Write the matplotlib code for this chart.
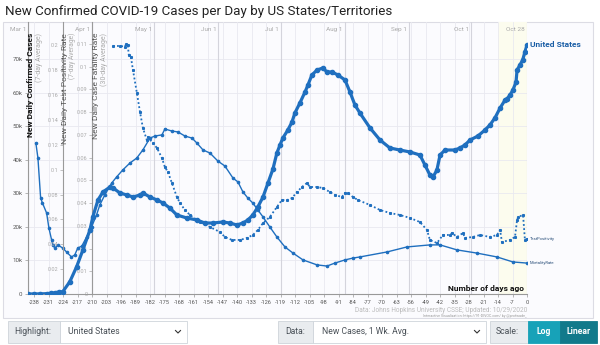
import matplotlib
matplotlib.use("Agg")
import matplotlib.pyplot as plt
from matplotlib.patches import Rectangle
from matplotlib.lines import Line2D
import matplotlib.transforms as mtransforms

plt.rcParams['font.family'] = ['Roboto', 'DejaVu Sans']

# days before Oct 28 and 7-day average of new cases (United States)
case_days = [-241, -238, -235, -232, -230, -228, -226, -224.2, -220.8, -217.5, -214.5,
             -211.1, -209.7, -207.2, -204.8, -201.4, -199.9, -196.6, -193.2, -190.3,
             -186.9, -185.5, -182.1, -178.7, -175.8, -172.5, -169.1, -164.3, -159.4,
             -155.6, -151.7, -146.9, -143.5, -140.1, -137.2, -134.8, -132.4, -130,
             -127.5, -125.1, -122.7, -120.8, -119.3, -117.9, -115.5, -113.5, -112.1,
             -109.7, -107.2, -105.8, -103.9, -101.4, -98.6, -96.6, -94.2, -91.3, -87.9,
             -85.5, -83.1, -80.7, -75.8, -71, -66.2, -61.4, -56.5, -51.7, -49.3, -46.9,
             -45.4, -43.5, -42, -39.6, -34.8, -32.4, -30, -27.5, -23.7, -20.3, -17.9,
             -15.5, -13, -10.6, -9.7, -8.2, -6.8, -5.3, -4.8, -3.4, -2.1, -1, 0]
case_values = [5, 15, 40, 100, 200, 380, 600, 690, 3670, 8150, 13130,
               19100, 23000, 28060, 30450, 31940, 31640, 30150, 29550, 28950,
               29550, 30150, 28950, 28060, 27160, 25670, 23580, 22690, 22090,
               21190, 21190, 21490, 21190, 20600, 21190, 22090, 23580, 25970,
               28950, 33130, 37310, 42090, 44480, 46570, 48950, 51340, 54030,
               57010, 60300, 62390, 65370, 66860, 67460, 66270, 66270, 65370, 63880,
               60300, 56420, 54030, 49550, 45970, 43580, 42980, 42390, 41490, 38510, 35520,
               34920, 37010, 41490, 42980, 42980, 43580, 44480, 45970, 47160, 48950, 50450,
               52540, 55520, 57910, 58210, 59400, 60890, 63280, 66860, 68360, 69850, 72240, 74330]

# 7-day average test positivity rate
pos_days = [-200, -196.6, -194.2, -193.7, -192.8, -192.3, -191.3, -190.3, -188.4, -186.9,
            -185.5, -183.6, -183.1, -180.7, -178.7, -176.3, -174.9, -173.4, -171.5, -169.1,
            -167.6, -165.2, -162.8, -158, -153.1, -148.3, -145.9, -142.5, -138.6, -135.3,
            -132.4, -130, -127.5, -124.2, -120.8, -118.4, -115.9, -113.5, -111.1, -108.7,
            -106.3, -104.8, -101.4, -98.6, -95.2, -92.8, -89.4, -87.9, -86.5, -84.1, -81.6,
            -75.8, -71, -66.2, -61.4, -56.5, -51.7, -48.3, -46.9, -43.5, -40.6, -37.2,
            -36.2, -33.8, -30.9, -30, -26.1, -22.7, -17.9, -14.5, -13, -12.1, -8.2, -5.8,
            -4.8, -4.3, -1.9, -1, 0]
pos_values = [0.1996, 0.1996, 0.1991, 0.2008, 0.2000, 0.1923, 0.1907, 0.1802, 0.1617, 0.1464,
              0.1336, 0.1239, 0.1263, 0.1215, 0.1175, 0.1094, 0.1022, 0.0982, 0.0893, 0.0781,
              0.0732, 0.0676, 0.0636, 0.0579, 0.0539, 0.0499, 0.0459, 0.0435, 0.0435, 0.0451,
              0.0475, 0.0515, 0.0571, 0.0620, 0.0700, 0.0756, 0.0756, 0.0772, 0.0821, 0.0861,
              0.0893, 0.0861, 0.0861, 0.0853, 0.0821, 0.0797, 0.0781, 0.0813, 0.0813, 0.0781, 0.0756,
              0.0716, 0.0676, 0.0652, 0.0636, 0.0612, 0.0579, 0.0515, 0.0435, 0.0410, 0.0475, 0.0475,
              0.0491, 0.0459, 0.0491, 0.0451, 0.0459, 0.0475, 0.0459, 0.0475, 0.0515, 0.0418, 0.0435, 0.0459,
              0.0595, 0.0620, 0.0636, 0.0435, 0.0443]

# 30-day average case fatality rate
cfr_days = [-237.2, -236.2, -234.9, -234, -232, -230.9, -229.6, -229, -228, -226.6, -224.2,
            -222.4, -220, -218.4, -217, -215, -212.7, -210.3, -207.9, -206.3, -203.9, -200.6,
            -198.2, -195.2, -191.8, -188.5, -185.5, -182.1, -179.7, -176.3, -174.9, -171.5,
            -168.6, -165.2, -161.8, -159.4, -156.5, -153.1, -149.3, -145.9, -142, -139.6,
            -137.2, -134.8, -132.4, -130, -127.5, -124.2, -120.8, -116.9, -113, -108.2,
            -101.4, -96.6, -92.8, -87.9, -84.1, -80.7, -67.6, -58, -46.9, -42, -33.8,
            -24.2, -14.5, -6.8, 0]
cfr_values = [0.0664, 0.0598, 0.0422, 0.0400, 0.0356, 0.0290, 0.0238, 0.0216, 0.0202, 0.0216, 0.0202,
              0.0185, 0.0163, 0.0172, 0.0202, 0.0211, 0.0251, 0.0295, 0.0348, 0.0392, 0.0436, 0.0488,
              0.0515, 0.0546, 0.0576, 0.0598, 0.0634, 0.0686, 0.0695, 0.0700, 0.0726, 0.0717,
              0.0713, 0.0695, 0.0686, 0.0664, 0.0634, 0.0620, 0.0585, 0.0563, 0.0510, 0.0493,
              0.0449, 0.0422, 0.0400, 0.0370, 0.0339, 0.0295, 0.0251, 0.0207, 0.0180, 0.0150,
              0.0128, 0.0123, 0.0136, 0.0150, 0.0158, 0.0163, 0.0185, 0.0207, 0.0216, 0.0216, 0.0194,
              0.0180, 0.0163, 0.0141, 0.0136]

week_ticks = list(range(-238, 1, 7))
month_days = [-241, -210, -180, -149, -119, -88, -57, -27, 0]
month_names = ['Mar 1', 'Apr 1', 'May 1', 'Jun 1', 'Jul 1', 'Aug 1', 'Sep 1', 'Oct 1', 'Oct 28']
case_ticks = [0, 10000, 20000, 30000, 40000, 50000, 60000, 70000]
pos_ticks = [0.02, 0.04, 0.06, 0.08, 0.1, 0.12, 0.14, 0.16, 0.18, 0.2]
cfr_ticks = [0, 0.01, 0.02, 0.03, 0.04, 0.05, 0.06, 0.07, 0.08, 0.09, 0.1, 0.11]

BLUE = '#1f6fbf'
W, H = 600, 345


def fx(x):
    return x / W


def fy(y):
    return 1 - y / H


def fmt_num(v):
    s = ('%.2f' % v).rstrip('0').rstrip('.')
    return s


fig = plt.figure(figsize=(6, 3.45), dpi=100)
fig.patch.set_facecolor('white')

# chart frame
fig.patches.append(Rectangle((fx(3), fy(318)), fx(590), 296 / H, transform=fig.transFigure,
                             facecolor='#fbfbfe', edgecolor='#dcdce4', lw=0.8, zorder=0))

fig.text(fx(5), fy(11), 'New Confirmed COVID-19 Cases per Day by US States/Territories',
         fontsize=9.6, color='#222222', va='center', ha='left')

rect = [fx(28), fy(294), fx(527 - 28), (294 - 22) / H]
ax3 = fig.add_axes(rect)   # fatality rate, drawn lowest (also hosts grid)
ax2 = fig.add_axes(rect)   # test positivity
ax = fig.add_axes(rect)    # cases on top
ax3.set_zorder(1)
ax2.set_zorder(2)
ax.set_zorder(3)
for a in (ax, ax2, ax3):
    a.set_xlim(-241, 0)
    a.patch.set_visible(False)
    for s in ('top', 'right'):
        a.spines[s].set_visible(False)

ax.set_ylim(0, 81190)
ax2.set_ylim(0, 0.2189)
ax3.set_ylim(0, 0.11967)

# background grid and recent-days band
ax3.axvspan(-14, 0, color='#fcfcee', zorder=0, lw=0)
for d in week_ticks:
    ax3.axvline(d, color='#e9e9f0', lw=0.6, zorder=0.5)
for d in month_days:
    ax3.axvline(d, color='#d4d4dc', lw=0.8, zorder=0.6)
blend = mtransforms.blended_transform_factory(ax3.transAxes, ax.transData)
for v in case_ticks[1:]:
    ax3.plot([0, 1], [v, v], transform=blend, color='#e9e9f0', lw=0.6, zorder=0.5)

for d, name in zip(month_days, month_names):
    ax3.text(d - 1, 0.972, name, transform=ax3.get_xaxis_transform(), ha='right', va='center',
             fontsize=4.6, color='#aaaaaa')

# series
ax3.plot(cfr_days, cfr_values, color=BLUE, lw=1.0, marker='o', ms=1.6, zorder=3)
ax2.plot(pos_days, pos_values, color=BLUE, lw=1.3, ls=(0, (1, 1.3)), zorder=3)
ax2.plot(pos_days, pos_values, color=BLUE, lw=0, marker='s', ms=1.2, zorder=3)
ax.plot(case_days, case_values, color=BLUE, lw=2.3, marker='o', ms=3.0, zorder=4,
        solid_capstyle='round')

# axes
ax.set_yticks(case_ticks)
ax.set_yticklabels(['0' if v == 0 else '%dk' % (v // 1000) for v in case_ticks])
ax.tick_params(axis='y', length=2.5, width=0.5, color='#999999', labelsize=4.4,
               labelcolor='#555555', pad=1.5)
ax.set_xticks(week_ticks)
ax.set_xticklabels([str(d) for d in week_ticks])
ax.tick_params(axis='x', length=2, width=0.5, color='#999999', labelsize=4.1,
               labelcolor='#555555', pad=2)
ax.spines['left'].set_color('#999999')
ax.spines['bottom'].set_color('#999999')
ax.spines['left'].set_linewidth(0.8)
ax.spines['bottom'].set_linewidth(0.8)

for a, pos, ticks in ((ax2, -224, pos_ticks), (ax3, -210, cfr_ticks)):
    a.spines['bottom'].set_visible(False)
    a.spines['left'].set_position(('data', pos))
    a.spines['left'].set_color('#9a9a9a')
    a.spines['left'].set_linewidth(0.8)
    a.set_xticks([])
    a.set_yticks(ticks)
    a.set_yticklabels([fmt_num(t) for t in ticks])
    a.tick_params(axis='y', length=2.5, width=0.5, color='#aaaaaa', labelsize=4.0,
                  labelcolor='#aaaaaa', pad=1)

# rotated axis titles
xa = ax.get_xaxis_transform()
ax.text(-239.6, 0.96, 'New Daily Confirmed Cases', transform=xa, rotation=90, ha='center',
        va='top', fontsize=6, fontweight='bold', color='#111111')
ax.text(-235.6, 0.96, '(7-day Average)', transform=xa, rotation=90, ha='center', va='top',
        fontsize=5, color='#aaaaaa')
ax.text(-223.0, 0.96, 'New Daily Test Positivity Rate', transform=xa, rotation=90, ha='center',
        va='top', fontsize=6, color='#555555')
ax.text(-219.6, 0.96, '(7-day Average)', transform=xa, rotation=90, ha='center', va='top',
        fontsize=4.8, color='#aaaaaa')
ax.text(-208.0, 0.96, 'New Daily Case Fatality Rate', transform=xa, rotation=90, ha='center',
        va='top', fontsize=6, color='#555555')
ax.text(-204.2, 0.96, '(30-day Average)', transform=xa, rotation=90, ha='center', va='top',
        fontsize=5, color='#aaaaaa')

# end-of-line labels
ax.text(1.5, case_values[-1], 'United States', fontsize=6, fontweight='bold', color='#1a5ea6',
        va='center', ha='left', clip_on=False)
ax2.text(1.5, pos_values[-1], 'TestPositivity', fontsize=3, color='#2a4f7a', va='center',
         ha='left', clip_on=False)
ax3.text(1.5, cfr_values[-1], 'MortalityRate', fontsize=3, color='#2a4f7a', va='center',
         ha='left', clip_on=False)

fig.text(fx(524), fy(288), 'Number of days ago', fontsize=6, fontweight='bold', color='#111111',
         ha='right', va='center')
fig.text(fx(527), fy(310), 'Data: Johns Hopkins University CSSE; Updated: 10/29/2020',
         fontsize=4.7, color='#bbbbbb', ha='right', va='center')
fig.text(fx(527), fy(316), 'Interactive Visualization: https://91-DIVOC.com/ by @profwade_',
         fontsize=2.6, color='#999999', ha='right', va='center')

# controls under the chart
def box(x0, x1, face, edge='#ced4da'):
    fig.patches.append(Rectangle((fx(x0), fy(343)), fx(x1 - x0), 22 / H, transform=fig.transFigure,
                                 facecolor=face, edgecolor=edge, lw=0.6, zorder=1))


def chevron(x):
    fig.lines.append(Line2D([fx(x - 2.5), fx(x), fx(x + 2.5)], [fy(330.5), fy(333), fy(330.5)],
                            transform=fig.transFigure, color='#333333', lw=0.8))


ui = dict(fontsize=6.2, va='center', ha='left')
box(8, 60, '#e9ecef')
box(60, 187, 'white')
fig.text(fx(14), fy(332), 'Highlight:', color='#495057', **ui)
fig.text(fx(68), fy(332), 'United States', color='#495057', **ui)
chevron(178)

box(278, 313, '#e9ecef')
box(313, 486, 'white')
fig.text(fx(285), fy(332), 'Data:', color='#495057', **ui)
fig.text(fx(322), fy(332), 'New Cases, 1 Wk. Avg.', color='#495057', **ui)
chevron(477)

box(490, 528, '#e9ecef')
box(528, 560, '#17a2b8', '#17a2b8')
box(560, 597, '#117a8b', '#117a8b')
fig.text(fx(496), fy(332), 'Scale:', color='#495057', **ui)
fig.text(fx(544), fy(332), 'Log', color='white', fontsize=6.2, va='center', ha='center',
         fontweight='bold')
fig.text(fx(578.5), fy(332), 'Linear', color='white', fontsize=6.2, va='center', ha='center',
         fontweight='bold')

fig.savefig('out.png', dpi=100)
